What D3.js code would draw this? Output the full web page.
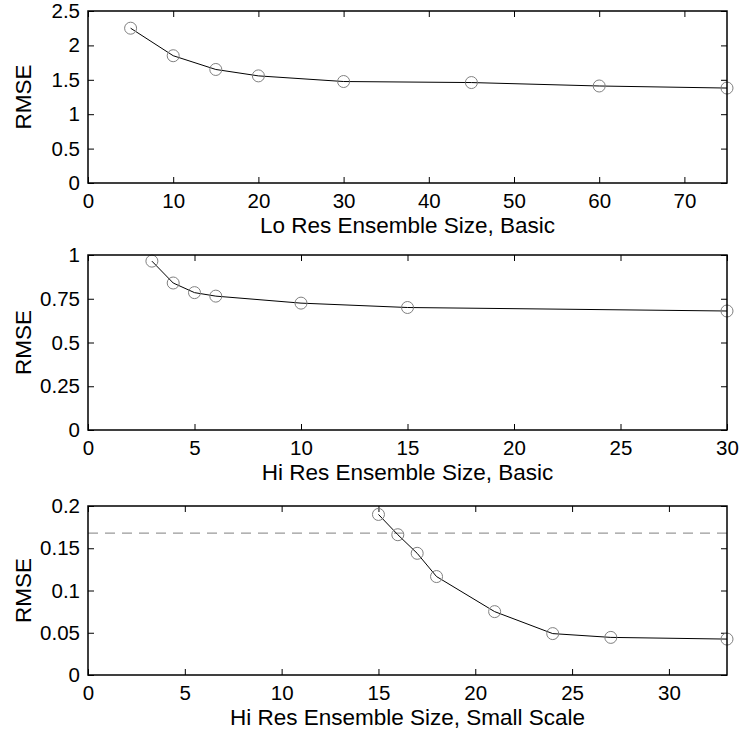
<!DOCTYPE html>
<html>
<head>
<meta charset="utf-8">
<script src="https://cdn.jsdelivr.net/npm/d3@7/dist/d3.min.js"></script>
<style>
  body { margin: 0; background: #fff; }
  svg { display: block; }
  text { font-family: "Liberation Sans", Arial, Helvetica, sans-serif; fill: #000; }
  .tick text { font-size: 20.5px; }
  .axis-label { font-size: 22.5px; }
  .frame { fill: none; stroke: #000; stroke-width: 1.5; }
  .curve { fill: none; stroke: #000; stroke-width: 1; }
  .marker { fill: none; stroke: #808080; stroke-width: 1; }
  .ref { stroke: #999; stroke-width: 1.2; stroke-dasharray: 10 7; }
</style>
</head>
<body>
<div id="chart"></div>
<script>
const width = 740
const height = 732

// panel 1: low resolution, basic
const loResSize = [5, 10, 15, 20, 30, 45, 60, 75]
const loResRmse = [2.25, 1.85, 1.65, 1.557, 1.475, 1.46, 1.41, 1.38]
const loResXTicks = [0, 10, 20, 30, 40, 50, 60, 70]
const loResYTicks = [0, 0.5, 1, 1.5, 2, 2.5]

// panel 2: high resolution, basic
const hiResSize = [3, 4, 5, 6, 10, 15, 30]
const hiResRmse = [0.965, 0.84, 0.785, 0.765, 0.725, 0.70, 0.68]
const hiResXTicks = [0, 5, 10, 15, 20, 25, 30]
const hiResYTicks = [0, 0.25, 0.5, 0.75, 1]

// panel 3: high resolution, small scale
const smallSize = [15, 16, 17, 18, 21, 24, 27, 33]
const smallRmse = [0.190, 0.166, 0.144, 0.1165, 0.075, 0.049, 0.0445, 0.0425]
const smallXTicks = [0, 5, 10, 15, 20, 25, 30]
const smallYTicks = [0, 0.05, 0.1, 0.15, 0.2]
const smallRef = 0.168

const left = 88
const right = 727

const panels = [
  {top: 11, bottom: 183, xMax: 75, yMax: 2.5, xs: loResSize, ys: loResRmse,
   xTicks: loResXTicks, yTicks: loResYTicks, label: 'Lo Res Ensemble Size, Basic'},
  {top: 255, bottom: 430, xMax: 30, yMax: 1, xs: hiResSize, ys: hiResRmse,
   xTicks: hiResXTicks, yTicks: hiResYTicks, label: 'Hi Res Ensemble Size, Basic'},
  {top: 506, bottom: 675, xMax: 33, yMax: 0.2, xs: smallSize, ys: smallRmse,
   xTicks: smallXTicks, yTicks: smallYTicks, label: 'Hi Res Ensemble Size, Small Scale', ref: smallRef}
]

const svg = d3.select('#chart')
  .append('svg')
  .attr('width', width)
  .attr('height', height)

panels.forEach(p => {
  const x = d3.scaleLinear().domain([0, p.xMax]).range([left, right])
  const y = d3.scaleLinear().domain([0, p.yMax]).range([p.bottom, p.top])
  const g = svg.append('g')
  const tickLen = 6

  // bottom axis with labels, ticks pointing inward
  g.append('g')
    .attr('transform', `translate(0,${p.bottom})`)
    .call(d3.axisBottom(x).tickValues(p.xTicks).tickSize(-tickLen).tickPadding(10).tickFormat(d3.format('')))
    .call(a => a.select('.domain').remove())
  // top mirror ticks
  g.append('g')
    .attr('transform', `translate(0,${p.top})`)
    .call(d3.axisTop(x).tickValues(p.xTicks).tickSize(-tickLen).tickFormat(''))
    .call(a => a.select('.domain').remove())
  // left axis
  g.append('g')
    .attr('transform', `translate(${left},0)`)
    .call(d3.axisLeft(y).tickValues(p.yTicks).tickSize(-tickLen).tickPadding(8).tickFormat(d3.format('')))
    .call(a => a.select('.domain').remove())
  // right mirror ticks
  g.append('g')
    .attr('transform', `translate(${right},0)`)
    .call(d3.axisRight(y).tickValues(p.yTicks).tickSize(-tickLen).tickFormat(''))
    .call(a => a.select('.domain').remove())

  g.selectAll('.tick line').attr('stroke', '#000')
  g.selectAll('.tick text').attr('font-family', null).attr('font-size', null)
  g.selectAll('g').attr('font-family', null).attr('font-size', null)

  if (p.ref !== undefined) {
    g.append('line')
      .attr('class', 'ref')
      .attr('x1', left).attr('x2', right)
      .attr('y1', y(p.ref)).attr('y2', y(p.ref))
  }

  const pts = p.xs.map((v, i) => [v, p.ys[i]])
  g.append('path')
    .datum(pts)
    .attr('class', 'curve')
    .attr('d', d3.line().x(d => x(d[0])).y(d => y(d[1])))

  g.selectAll('circle')
    .data(pts)
    .join('circle')
    .attr('class', 'marker')
    .attr('cx', d => x(d[0]))
    .attr('cy', d => y(d[1]))
    .attr('r', 6)

  g.append('rect')
    .attr('class', 'frame')
    .attr('x', left).attr('y', p.top)
    .attr('width', right - left).attr('height', p.bottom - p.top)

  g.append('text')
    .attr('class', 'axis-label')
    .attr('x', (left + right) / 2)
    .attr('y', p.bottom + 50)
    .attr('text-anchor', 'middle')
    .text(p.label)

  g.append('text')
    .attr('class', 'axis-label')
    .attr('transform', `translate(31,${(p.top + p.bottom) / 2}) rotate(-90)`)
    .attr('text-anchor', 'middle')
    .text('RMSE')
})
</script>
</body>
</html>
